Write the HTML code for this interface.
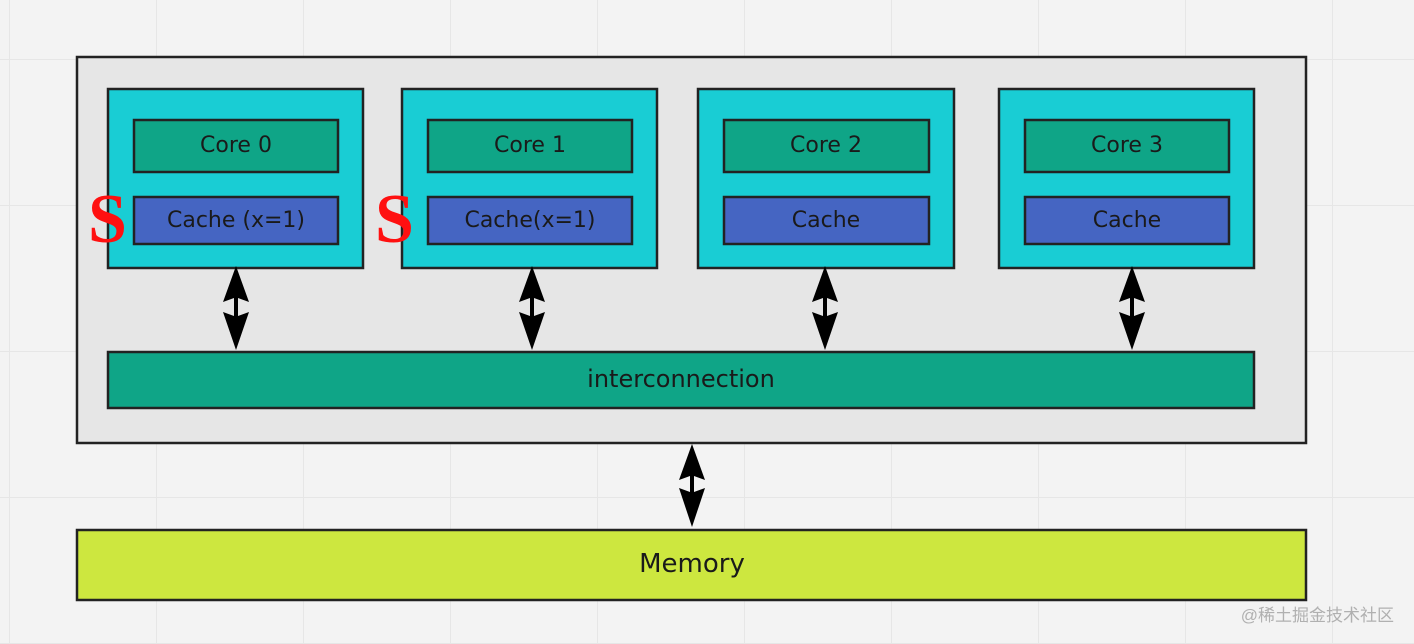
<!DOCTYPE html>
<html><head><meta charset="utf-8"><style>
html,body{margin:0;padding:0;background:#f3f3f3}
svg{display:block}
text{font-family:"DejaVu Sans","Liberation Sans",sans-serif;fill:#1a1a1a}
</style></head><body>
<svg width="1414" height="644" viewBox="0 0 1414 644" xmlns="http://www.w3.org/2000/svg">
<defs>
<pattern id="g" x="9" y="59" width="147" height="146" patternUnits="userSpaceOnUse">
<path d="M0 0V146M0 0H147" stroke="#e6e6e6" stroke-width="2" fill="none"/>
</pattern>
</defs>
<rect width="1414" height="644" fill="#f3f3f3"/>
<rect width="1414" height="644" fill="url(#g)"/>
<rect x="77" y="57" width="1229" height="386" fill="#e6e6e6" stroke="#222" stroke-width="2.5"/>
<g stroke="#222" stroke-width="2.5">
<rect x="108" y="89" width="255" height="179" fill="#19cdd4"/>
<rect x="402" y="89" width="255" height="179" fill="#19cdd4"/>
<rect x="698" y="89" width="256" height="179" fill="#19cdd4"/>
<rect x="999" y="89" width="255" height="179" fill="#19cdd4"/>
<rect x="134" y="120" width="204" height="52" fill="#0fa587"/>
<rect x="428" y="120" width="204" height="52" fill="#0fa587"/>
<rect x="724" y="120" width="205" height="52" fill="#0fa587"/>
<rect x="1025" y="120" width="204" height="52" fill="#0fa587"/>
<rect x="134" y="197" width="204" height="47" fill="#4565c2"/>
<rect x="428" y="197" width="204" height="47" fill="#4565c2"/>
<rect x="724" y="197" width="205" height="47" fill="#4565c2"/>
<rect x="1025" y="197" width="204" height="47" fill="#4565c2"/>
<rect x="108" y="352" width="1146" height="56" fill="#0fa587"/>
<rect x="77" y="530" width="1229" height="70" fill="#cde73f"/>
</g>
<g font-size="22" text-anchor="middle">
<text x="236" y="152">Core 0</text>
<text x="530" y="152">Core 1</text>
<text x="826" y="152">Core 2</text>
<text x="1127" y="152">Core 3</text>
<text x="236" y="227">Cache (x=1)</text>
<text x="530" y="227">Cache(x=1)</text>
<text x="826" y="227">Cache</text>
<text x="1127" y="227">Cache</text>
<text x="681" y="387" font-size="24">interconnection</text>
<text x="692" y="572" font-size="26">Memory</text>
</g>
<text x="88" y="242" font-size="70" font-weight="bold" style="fill:#ff1010;font-family:'Liberation Serif',serif">S</text>
<text x="375" y="242" font-size="70" font-weight="bold" style="fill:#ff1010;font-family:'Liberation Serif',serif">S</text>
<g fill="#000">
<path d="M236 266 L249 302 L238 298 L238 316 L249 312 L236 350 L223 312 L234 316 L234 298 L223 302 Z"/>
<path d="M532 266 L545 302 L534 298 L534 316 L545 312 L532 350 L519 312 L530 316 L530 298 L519 302 Z"/>
<path d="M825 266 L838 302 L827 298 L827 316 L838 312 L825 350 L812 312 L823 316 L823 298 L812 302 Z"/>
<path d="M1132 266 L1145 302 L1134 298 L1134 316 L1145 312 L1132 350 L1119 312 L1130 316 L1130 298 L1119 302 Z"/>
<path d="M692 444 L705 480 L694 476 L694 492 L705 488 L692 527 L679 488 L690 492 L690 476 L679 480 Z"/>
</g>
<text x="1394" y="621" text-anchor="end" font-size="17" style="fill:#b0b0b0;font-family:'Liberation Sans','Noto Sans CJK SC',sans-serif">@稀土掘金技术社区</text>
</svg>
</body></html>
